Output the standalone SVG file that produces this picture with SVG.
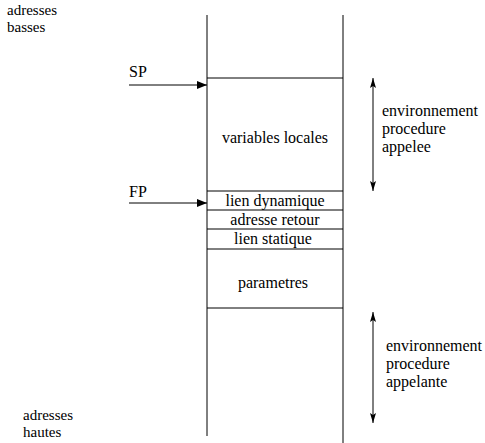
<svg xmlns="http://www.w3.org/2000/svg" width="485" height="443" viewBox="0 0 485 443">
<style>
text{font-family:"Liberation Serif","Times New Roman",serif;font-size:16px;fill:#000}
.c{text-anchor:middle}
.s{font-size:15px}
line{stroke:#000;stroke-width:1}
</style>
<defs>
<marker id="ah" markerWidth="10" markerHeight="8" refX="10" refY="4" orient="auto" markerUnits="userSpaceOnUse">
<path d="M0,0 L10,4 L0,8 z" fill="#000"/>
</marker>
<marker id="ah2" markerWidth="10" markerHeight="6" refX="10" refY="3" orient="auto-start-reverse" markerUnits="userSpaceOnUse">
<path d="M0,0 L10,3 L0,6 L2,3 z" fill="#000"/>
</marker>
</defs>
<g id="stack">
<line x1="207" y1="15" x2="207" y2="436"/>
<line x1="343" y1="15" x2="343" y2="443"/>
</g>
<g id="variables-locales">
<line x1="207" y1="78" x2="343" y2="78"/>
<text class="c" x="275" y="143">variables locales</text>
</g>
<g id="lien-dynamique">
<line x1="207" y1="191" x2="343" y2="191"/>
<text class="c" x="275" y="206">lien dynamique</text>
</g>
<g id="adresse-retour">
<line x1="207" y1="210" x2="343" y2="210"/>
<text class="c" x="275" y="225">adresse retour</text>
</g>
<g id="lien-statique">
<line x1="207" y1="229" x2="343" y2="229"/>
<text class="c" x="273" y="244">lien statique</text>
</g>
<g id="parametres">
<line x1="207" y1="249" x2="343" y2="249"/>
<text class="c" x="273" y="288">parametres</text>
<line x1="207" y1="308" x2="343" y2="308"/>
</g>
<g id="labels">
<text class="s" x="7" y="15">adresses</text>
<text class="s" x="7" y="32">basses</text>
<text class="s" x="23" y="420">adresses</text>
<text class="s" x="23" y="437">hautes</text>
<text x="129" y="77">SP</text>
<text x="129" y="197">FP</text>
<text x="382" y="116">environnement</text>
<text x="382" y="134">procedure</text>
<text x="382" y="152">appelee</text>
<text x="386" y="351">environnement</text>
<text x="386" y="369">procedure</text>
<text x="386" y="387">appelante</text>
</g>
<g id="connectors">
<line x1="129" y1="85" x2="207" y2="85" marker-end="url(#ah)"/>
<line x1="129" y1="203" x2="207" y2="203" marker-end="url(#ah)"/>
<line x1="373" y1="78" x2="373" y2="191" marker-start="url(#ah2)" marker-end="url(#ah2)"/>
<line x1="373" y1="312" x2="373" y2="423" marker-start="url(#ah2)" marker-end="url(#ah2)"/>
</g>
</svg>
